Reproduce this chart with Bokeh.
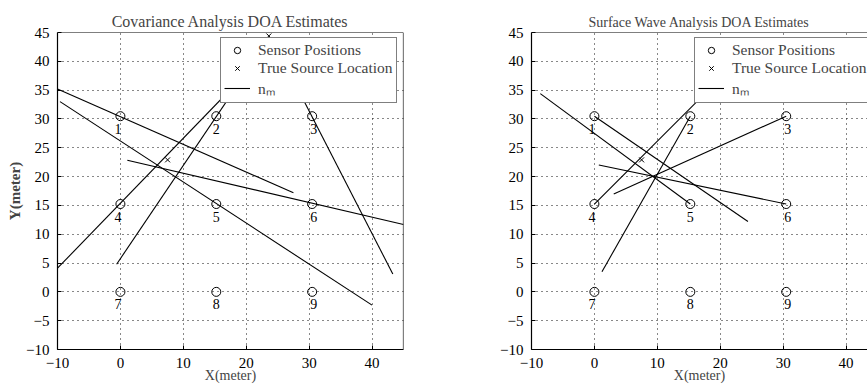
from bokeh.plotting import figure
from bokeh.models import (ColumnDataSource, Legend, LegendItem, Span,
                          SingleIntervalTicker, Range1d)
from bokeh.layouts import row
from bokeh.embed import file_html
from bokeh.resources import INLINE
from bokeh.core.properties import value

# ---------------- data ----------------
sensor_x = [0.0, 15.24, 30.48, 0.0, 15.24, 30.48, 0.0, 15.24, 30.48]
sensor_y = [30.48, 30.48, 30.48, 15.24, 15.24, 15.24, 0.0, 0.0, 0.0]
sensor_labels = ["1", "2", "3", "4", "5", "6", "7", "8", "9"]

# Covariance analysis DOA estimate segments
cov_x0 = [-10.0, -9.6, -10.0, -0.6, 25.0, 1.1]
cov_y0 = [35.2, 33.0, 4.1, 4.8, 42.0, 22.85]
cov_x1 = [27.5, 40.0, 23.6, 22.4, 43.3, 45.0]
cov_y1 = [17.2, -2.3, 42.0, 42.0, 3.1, 11.7]
cov_src_x = [7.5, 23.6]
cov_src_y = [22.9, 44.4]

# Surface wave analysis DOA estimate segments
sw_x0 = [-8.6, 0.0, 0.0, 15.24, 30.48, 30.48]
sw_y0 = [34.4, 30.48, 15.24, 30.48, 30.48, 15.24]
sw_x1 = [15.24, 24.4, 24.5, 1.2, 3.07, 0.7]
sw_y1 = [15.24, 12.2, 42.0, 3.5, 17.0, 22.0]
sw_src_x = [7.5]
sw_src_y = [22.9]

x_lo, x_hi = -10, 45
y_lo, y_hi = -10, 45

FONT = "Liberation Serif"

# label offsets (style): by sensor column
col_xoff = {0.0: -2.5, 15.24: 0.0, 30.48: 1.5}


def style_axis(ax):
    ax.major_tick_in = 4
    ax.major_tick_out = 0
    ax.minor_tick_line_color = None
    ax.axis_line_color = "black"
    ax.axis_line_width = 1.2
    ax.major_tick_line_color = "black"
    ax.major_label_text_font = FONT
    ax.major_label_text_color = "black"
    ax.major_label_text_font_size = "15px"
    ax.major_label_standoff = 4


def make_plot(title, title_size, title_offset, width, x_end, mb_left, mb_right,
              seg, src, ylabel, right_border):
    p = figure(width=width, height=385, x_range=Range1d(x_lo, x_end), y_range=Range1d(y_lo, y_hi),
               output_backend="svg", toolbar_location=None,
               min_border_left=mb_left, min_border_right=mb_right,
               min_border_top=32, min_border_bottom=30)
    p.background_fill_color = "white"
    p.border_fill_color = "white"
    p.outline_line_color = None

    p.title.text = title
    p.title.align = "center"
    p.title.text_font = FONT
    p.title.text_font_size = title_size
    p.title.text_font_style = "normal"
    p.title.offset = title_offset
    p.title.standoff = 5

    xt = SingleIntervalTicker(interval=10)
    yt = SingleIntervalTicker(interval=5)
    p.xaxis.ticker = xt
    p.yaxis.ticker = yt
    p.xgrid.ticker = xt
    p.ygrid.ticker = yt
    for ax in p.xaxis + p.yaxis:
        style_axis(ax)
    if ylabel:
        p.yaxis.axis_label = ylabel
        p.yaxis.axis_label_text_font = FONT
        p.yaxis.axis_label_text_font_size = "15px"
        p.yaxis.axis_label_text_font_style = "bold"
        p.yaxis.axis_label_standoff = 0

    p.xaxis.axis_label = "X(meter)"
    p.xaxis.axis_label_text_font = FONT
    p.xaxis.axis_label_text_font_size = "14px"
    p.xaxis.axis_label_text_font_style = "normal"
    p.xaxis.axis_label_standoff = -3

    p.add_layout(Span(location=y_hi, dimension="width", line_color="black", line_width=1))
    if right_border:
        p.add_layout(Span(location=x_hi, dimension="height", line_color="black", line_width=1.2))

    p.grid.grid_line_color = "#111111"
    p.grid.grid_line_dash = "1 4"
    p.grid.grid_line_width = 1

    segs = ColumnDataSource(dict(x0=seg[0], y0=seg[1], x1=seg[2], y1=seg[3]))
    r_l = p.segment(x0="x0", y0="y0", x1="x1", y1="y1", source=segs,
                    line_color="black", line_width=1.1)

    sens = ColumnDataSource(dict(x=sensor_x, y=sensor_y, label=sensor_labels,
                                 xo=[col_xoff[v] for v in sensor_x]))
    r_s = p.scatter(x="x", y="y", source=sens, marker="circle", size=9,
                    fill_color=None, line_color="black", line_width=1)
    p.text(x="x", y="y", text="label", source=sens, x_offset="xo", y_offset=12.5,
           text_font=value(FONT), text_font_size=value("14px"), text_color="black",
           text_align="center", text_baseline="middle")

    srcs = ColumnDataSource(dict(x=src[0], y=src[1]))
    r_x = p.scatter(x="x", y="y", source=srcs, marker="x", size=7,
                    line_color="black", line_width=1)

    legend = Legend(items=[LegendItem(label="Sensor Positions", renderers=[r_s]),
                           LegendItem(label="True Source Location", renderers=[r_x]),
                           LegendItem(label="nₘ", renderers=[r_l])],
                    location=(163, 246))
    legend.border_line_color = "black"
    legend.border_line_width = 1
    legend.background_fill_color = "white"
    legend.background_fill_alpha = 1
    legend.padding = 3
    legend.spacing = 0
    legend.margin = 0
    legend.glyph_width = 26
    legend.glyph_height = 16
    legend.label_height = 16
    legend.label_standoff = 8
    legend.label_text_font = FONT
    legend.label_text_font_size = "15.5px"
    legend.label_text_baseline = "middle"
    p.add_layout(legend)
    return p


p1 = make_plot("Covariance Analysis DOA Estimates", "16px", -5, 491, x_hi, 57, 88,
               (cov_x0, cov_y0, cov_x1, cov_y1), (cov_src_x, cov_src_y), "Y(meter)", True)
p2 = make_plot("Surface Wave Analysis DOA Estimates", "14px", -4.5, 376, 43.4, 40, 0,
               (sw_x0, sw_y0, sw_x1, sw_y1), (sw_src_x, sw_src_y), None, False)

layout = row(p1, p2)
open("out.html", "w").write(file_html(layout, INLINE))
